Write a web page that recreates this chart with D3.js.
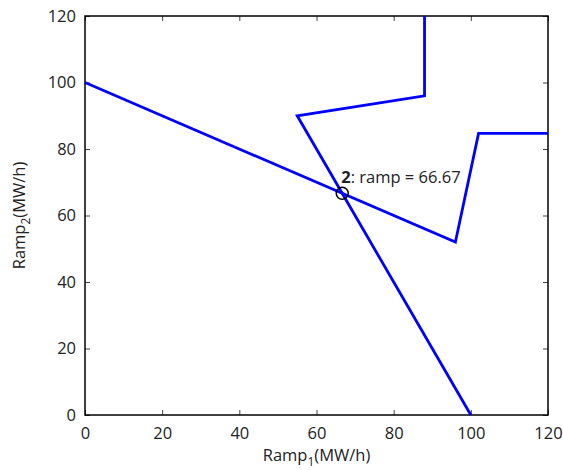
<!DOCTYPE html>
<html lang="en">
  <head>
    <meta charset="UTF-8" />
    <title>Ramp feasible region</title>
    <style>
      body {
        margin: 0;
        background-color: #ffffff;
      }
      svg text {
        font-family: "Open Sans", "Noto Sans", sans-serif;
        fill: #222;
      }
    </style>
  </head>
  <body>
    <div id="chart"></div>

    <script src="https://d3js.org/d3.v7.min.js"></script>
    <script>
      // Data
      const xTicks = [0, 20, 40, 60, 80, 100, 120];
      const yTicks = [0, 20, 40, 60, 80, 100, 120];

      // boundary of unit 1 / unit 2 ramp limits
      const line1 = [
        [0, 100],
        [96, 52],
        [102, 84.7],
        [120, 84.7],
      ];
      const line2 = [
        [100, 0],
        [55, 90],
        [88, 96],
        [88, 120],
      ];
      const marker = [66.67, 66.67];
      const markerLabel = "2";
      const markerText = ": ramp = 66.67";

      const width = 563;
      const height = 470;
      const margin = { top: 16, right: 15, bottom: 55, left: 85 };

      const svg = d3
        .select("#chart")
        .append("svg")
        .attr("width", width)
        .attr("height", height);

      const x = d3
        .scaleLinear()
        .domain([0, 120])
        .range([margin.left, width - margin.right]);
      const y = d3
        .scaleLinear()
        .domain([0, 120])
        .range([height - margin.bottom, margin.top]);

      const tickLen = 5;

      // inward ticks on all four sides
      const xAxis = (g, top) =>
        g
          .call(
            (top ? d3.axisTop(x) : d3.axisBottom(x))
              .tickValues(xTicks)
              .tickSize(-tickLen)
              .tickPadding(top ? 0 : 12)
          )
          .call((g) => g.select(".domain").remove())
          .call((g) => g.selectAll("line").attr("stroke", "#444"))
          .call((g) => g.selectAll("text").attr("font-size", 16.5).attr("fill", "#222"));

      const yAxis = (g, right) =>
        g
          .call(
            (right ? d3.axisRight(y) : d3.axisLeft(y))
              .tickValues(yTicks)
              .tickSize(-tickLen)
              .tickPadding(right ? 0 : 9)
          )
          .call((g) => g.select(".domain").remove())
          .call((g) => g.selectAll("line").attr("stroke", "#444"))
          .call((g) => g.selectAll("text").attr("font-size", 16.5).attr("fill", "#222"));

      svg
        .append("g")
        .attr("transform", `translate(0,${y(0)})`)
        .call((g) => xAxis(g, false));
      svg
        .append("g")
        .attr("transform", `translate(0,${y(120)})`)
        .call((g) => xAxis(g, true))
        .call((g) => g.selectAll("text").remove());
      svg
        .append("g")
        .attr("transform", `translate(${x(0)},0)`)
        .call((g) => yAxis(g, false));
      svg
        .append("g")
        .attr("transform", `translate(${x(120)},0)`)
        .call((g) => yAxis(g, true))
        .call((g) => g.selectAll("text").remove());

      // plot box
      svg
        .append("rect")
        .attr("x", x(0))
        .attr("y", y(120))
        .attr("width", x(120) - x(0))
        .attr("height", y(0) - y(120))
        .attr("fill", "none")
        .attr("stroke", "#000")
        .attr("stroke-width", 1.5);

      const line = d3
        .line()
        .x((d) => x(d[0]))
        .y((d) => y(d[1]));

      [line1, line2].forEach((pts) => {
        svg
          .append("path")
          .datum(pts)
          .attr("d", line)
          .attr("fill", "none")
          .attr("stroke", "#0000ff")
          .attr("stroke-width", 2.8)
          .attr("stroke-linejoin", "miter");
      });

      // marked intersection
      svg
        .append("circle")
        .attr("cx", x(marker[0]))
        .attr("cy", y(marker[1]))
        .attr("r", 6)
        .attr("fill", "none")
        .attr("stroke", "#000")
        .attr("stroke-width", 1.5);

      const lbl = svg
        .append("text")
        .attr("x", x(marker[0]) - 1)
        .attr("y", y(marker[1]) - 10)
        .attr("font-size", 16.5);
      lbl.append("tspan").attr("font-weight", "bold").text(markerLabel);
      lbl.append("tspan").text(markerText);

      // axis labels
      const xl = svg
        .append("text")
        .attr("x", (x(0) + x(120)) / 2)
        .attr("y", height - 9)
        .attr("text-anchor", "middle")
        .attr("font-size", 16.5);
      xl.append("tspan").text("Ramp");
      xl.append("tspan").attr("font-size", 12).attr("dy", 5).text("1");
      xl.append("tspan").attr("dy", -5).text("(MW/h)");

      const yl = svg
        .append("text")
        .attr("transform", `translate(25,${(y(0) + y(120)) / 2}) rotate(-90)`)
        .attr("text-anchor", "middle")
        .attr("font-size", 16.5);
      yl.append("tspan").text("Ramp");
      yl.append("tspan").attr("font-size", 12).attr("dy", 5).text("2");
      yl.append("tspan").attr("dy", -5).text("(MW/h)");
    </script>
  </body>
</html>
